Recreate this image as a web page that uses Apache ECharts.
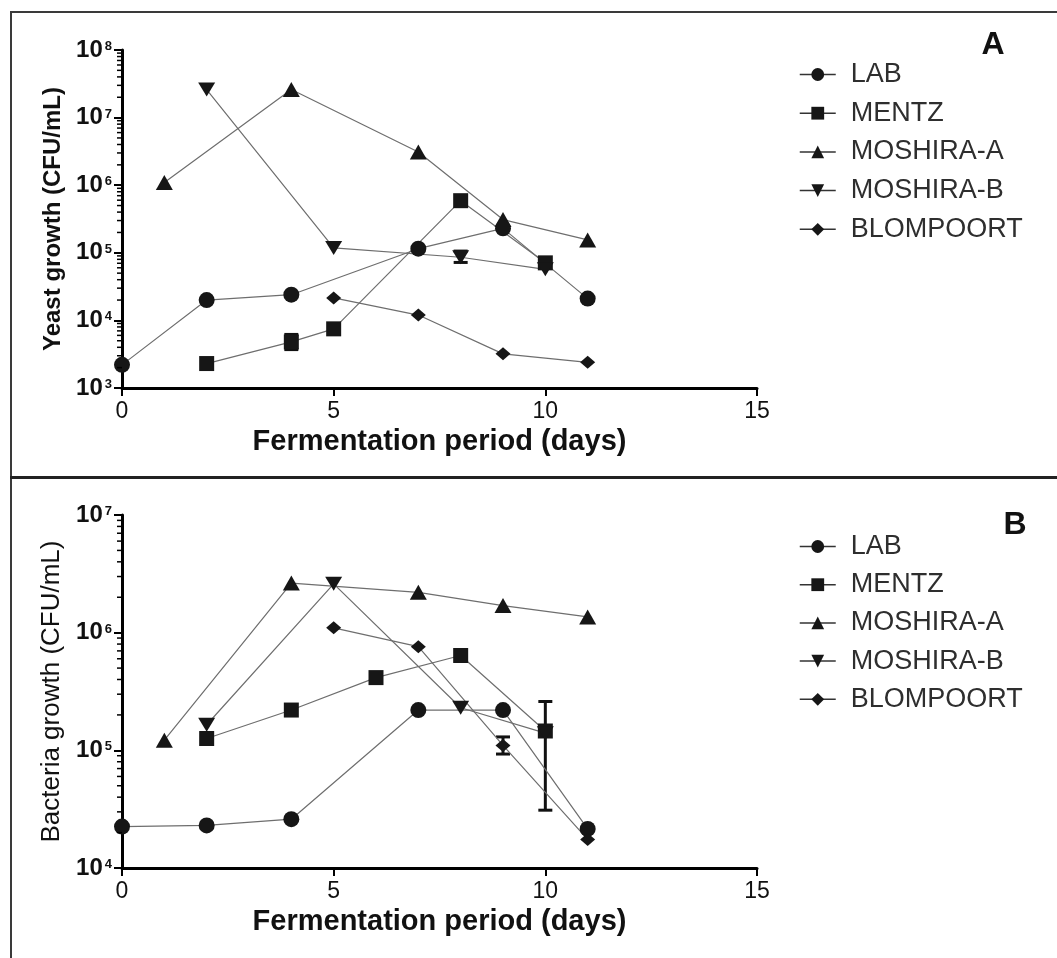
<!DOCTYPE html>
<html><head><meta charset="utf-8">
<script src="https://cdn.jsdelivr.net/npm/echarts@6/dist/echarts.min.js"></script>
<style>
html,body{margin:0;padding:0;background:#fff;}
#wrap{position:relative;width:1057px;height:958px;overflow:hidden;background:#fff;}
#a{position:absolute;left:0;top:0;width:1057px;height:478px;}
#b{position:absolute;left:0;top:478px;width:1057px;height:480px;}
.ln{position:absolute;background:#3a3a3a;}
</style></head><body>
<div id="wrap"><div id="a"></div><div id="b"></div>
<div class="ln" style="left:10px;top:11px;width:1047px;height:2px"></div>
<div class="ln" style="left:10px;top:11px;width:2px;height:947px"></div>
<div class="ln" style="left:10px;top:476px;width:1047px;height:3px;background:#222"></div>
</div>
<script>
// ---------- data ----------
const seriesNames = ['LAB', 'MENTZ', 'MOSHIRA-A', 'MOSHIRA-B', 'BLOMPOORT'];
const xTicks = [0, 5, 10, 15];

// Panel A: yeast growth (CFU/mL)
const yeastLabDays = [0, 2, 4, 7, 9, 11];
const yeastLab = [2.2e3, 2.0e4, 2.4e4, 1.15e5, 2.3e5, 2.1e4];
const yeastMentzDays = [2, 4, 5, 8, 10];
const yeastMentz = [2.3e3, 4.8e3, 7.5e3, 5.9e5, 7.1e4];
const yeastMoshiraADays = [1, 4, 7, 9, 11];
const yeastMoshiraA = [1.1e6, 2.6e7, 3.1e6, 3.1e5, 1.55e5];
const yeastMoshiraBDays = [2, 5, 8, 10];
const yeastMoshiraB = [2.6e7, 1.18e5, 8.6e4, 5.7e4];
const yeastBlomDays = [5, 7, 9, 11];
const yeastBlom = [2.15e4, 1.2e4, 3.2e3, 2.4e3];
const yeastErrDays = [4, 8];
const yeastErrLow = [3.7e3, 7.2e4];
const yeastErrHigh = [6.2e3, 1.06e5];

// Panel B: bacteria growth (CFU/mL)
const bactLabDays = [0, 2, 4, 7, 9, 11];
const bactLab = [2.25e4, 2.3e4, 2.6e4, 2.2e5, 2.2e5, 2.15e4];
const bactMentzDays = [2, 4, 6, 8, 10];
const bactMentz = [1.26e5, 2.2e5, 4.15e5, 6.4e5, 1.46e5];
const bactMoshiraADays = [1, 4, 7, 9, 11];
const bactMoshiraA = [1.22e5, 2.64e6, 2.2e6, 1.7e6, 1.36e6];
const bactMoshiraBDays = [2, 5, 8, 10];
const bactMoshiraB = [1.65e5, 2.6e6, 2.3e5, 1.4e5];
const bactBlomDays = [5, 7, 9, 11];
const bactBlom = [1.1e6, 7.6e5, 1.1e5, 1.75e4];
const bactErrDays = [9, 10];
const bactErrLow = [9.3e4, 3.1e4];
const bactErrHigh = [1.3e5, 2.6e5];

// ---------- styling ----------
const FONT = '"Liberation Sans", Arial, sans-serif';
const DOWN_TRI = 'path://M0,0 L20,0 L10,17 Z';
const symbols = {
  'LAB': {symbol: 'circle', size: 16},
  'MENTZ': {symbol: 'rect', size: 15},
  'MOSHIRA-A': {symbol: 'triangle', size: [17, 15]},
  'MOSHIRA-B': {symbol: DOWN_TRI, size: [17, 14]},
  'BLOMPOORT': {symbol: 'diamond', size: [15, 13]}
};

function zip(xs, ys) { return xs.map((x, i) => [x, ys[i]]); }

function lineSeries(name, xs, ys) {
  return {
    name, type: 'line', data: zip(xs, ys),
    symbol: symbols[name].symbol, symbolSize: symbols[name].size,
    showSymbol: true, z: 3,
    lineStyle: {color: '#6e6e6e', width: 1.2},
    itemStyle: {color: '#161616'},
    emphasis: {disabled: true}
  };
}

function minorTicks(minExp, maxExp) {
  const vals = [];
  for (let k = minExp; k < maxExp; k++) for (let m = 2; m <= 9; m++) vals.push([0, m * Math.pow(10, k)]);
  return {
    type: 'custom', silent: true, data: vals, clip: false, z: 6,
    renderItem: (params, api) => {
      const p = api.coord([api.value(0), api.value(1)]);
      return {type: 'line', shape: {x1: p[0] - 5, y1: p[1], x2: p[0], y2: p[1]}, style: {stroke: '#000', lineWidth: 1.5}};
    }
  };
}

function errorBars(xs, lo, hi) {
  return {
    type: 'custom', silent: true, clip: false, z: 2,
    data: xs.map((x, i) => [x, lo[i], hi[i]]),
    encode: {x: 0, y: [1, 2]},
    renderItem: (params, api) => {
      const pl = api.coord([api.value(0), api.value(1)]);
      const ph = api.coord([api.value(0), api.value(2)]);
      const w = 7, st = {stroke: '#111', lineWidth: 3};
      return {type: 'group', children: [
        {type: 'line', shape: {x1: pl[0], y1: pl[1], x2: ph[0], y2: ph[1]}, style: st},
        {type: 'line', shape: {x1: pl[0] - w, y1: pl[1], x2: pl[0] + w, y2: pl[1]}, style: st},
        {type: 'line', shape: {x1: ph[0] - w, y1: ph[1], x2: ph[0] + w, y2: ph[1]}, style: st}
      ]};
    }
  };
}

function makeOption(cfg) {
  return {
    animation: false,
    backgroundColor: 'transparent',
    textStyle: {fontFamily: FONT},
    grid: {left: 122, width: 635, top: cfg.top, height: cfg.height},
    legend: {
      orient: 'vertical', left: 794, top: cfg.legendTop,
      data: seriesNames, itemWidth: 36, itemHeight: 16, itemGap: cfg.legendGap,
      selectedMode: false,
      lineStyle: {color: '#333', width: 1.5},
      textStyle: {fontFamily: FONT, fontSize: 27, lineHeight: 27, color: '#2e2e2e', padding: [0, 0, 0, 10]}
    },
    xAxis: {
      type: 'value', min: 0, max: 15, interval: 5,
      name: 'Fermentation period (days)', nameLocation: 'middle', nameGap: cfg.xNameGap,
      nameTextStyle: {fontFamily: FONT, fontSize: 29, fontWeight: 'bold', color: '#111'},
      axisLine: {lineStyle: {color: '#000', width: 3}},
      axisTick: {show: true, length: 8, lineStyle: {color: '#000', width: 2}},
      axisLabel: {fontFamily: FONT, fontSize: 23, color: '#111', margin: 12,
        formatter: v => xTicks.indexOf(v) >= 0 ? String(v) : ''},
      splitLine: {show: false}
    },
    yAxis: {
      type: 'log', logBase: 10, min: cfg.ymin, max: cfg.ymax,
      name: cfg.yName, nameLocation: 'middle', nameGap: cfg.yNameGap, nameRotate: 90,
      nameTextStyle: {fontFamily: FONT, fontSize: cfg.yNameSize, fontWeight: cfg.yNameWeight, color: '#111'},
      axisLine: {show: true, lineStyle: {color: '#000', width: 3}},
      axisTick: {show: true, length: 8, lineStyle: {color: '#000', width: 2}},
      axisLabel: {
        margin: 10,
        formatter: v => '{b|10}{s|' + Math.round(Math.log10(v)) + '}',
        rich: {
          b: {fontFamily: FONT, fontSize: 24, fontWeight: 'bold', color: '#111', lineHeight: 24},
          s: {fontFamily: FONT, fontSize: 13, fontWeight: 'bold', color: '#111', verticalAlign: 'top', lineHeight: 13, padding: [2, 0, 0, 2]}
        }
      },
      splitLine: {show: false}
    },
    graphic: [{type: 'text', x: cfg.letterX, y: cfg.letterY,
      style: {text: cfg.letter, font: 'bold 32px ' + FONT, fill: '#111', textAlign: 'center', textVerticalAlign: 'middle'}}],
    series: cfg.series
  };
}

const chartA = echarts.init(document.getElementById('a'), null, {renderer: 'canvas'});
chartA.setOption(makeOption({
  top: 50, height: 338, legendTop: 56, legendGap: 11.7,
  xNameGap: 38, ymin: 1e3, ymax: 1e8,
  yName: 'Yeast growth (CFU/mL)', yNameGap: 56, yNameSize: 24, yNameWeight: 'bold',
  letter: 'A', letterX: 993, letterY: 45,
  series: [
    minorTicks(3, 8),
    errorBars(yeastErrDays, yeastErrLow, yeastErrHigh),
    lineSeries('LAB', yeastLabDays, yeastLab),
    lineSeries('MENTZ', yeastMentzDays, yeastMentz),
    lineSeries('MOSHIRA-A', yeastMoshiraADays, yeastMoshiraA),
    lineSeries('MOSHIRA-B', yeastMoshiraBDays, yeastMoshiraB),
    lineSeries('BLOMPOORT', yeastBlomDays, yeastBlom)
  ]
}));

const chartB = echarts.init(document.getElementById('b'), null, {renderer: 'canvas'});
chartB.setOption(makeOption({
  top: 37, height: 353, legendTop: 50, legendGap: 11.2,
  xNameGap: 36, ymin: 1e4, ymax: 1e7,
  yName: 'Bacteria growth (CFU/mL)', yNameGap: 56, yNameSize: 26, yNameWeight: 'normal',
  letter: 'B', letterX: 1015, letterY: 47,
  series: [
    minorTicks(4, 7),
    errorBars(bactErrDays, bactErrLow, bactErrHigh),
    lineSeries('LAB', bactLabDays, bactLab),
    lineSeries('MENTZ', bactMentzDays, bactMentz),
    lineSeries('MOSHIRA-A', bactMoshiraADays, bactMoshiraA),
    lineSeries('MOSHIRA-B', bactMoshiraBDays, bactMoshiraB),
    lineSeries('BLOMPOORT', bactBlomDays, bactBlom)
  ]
}));
</script>
</body></html>
